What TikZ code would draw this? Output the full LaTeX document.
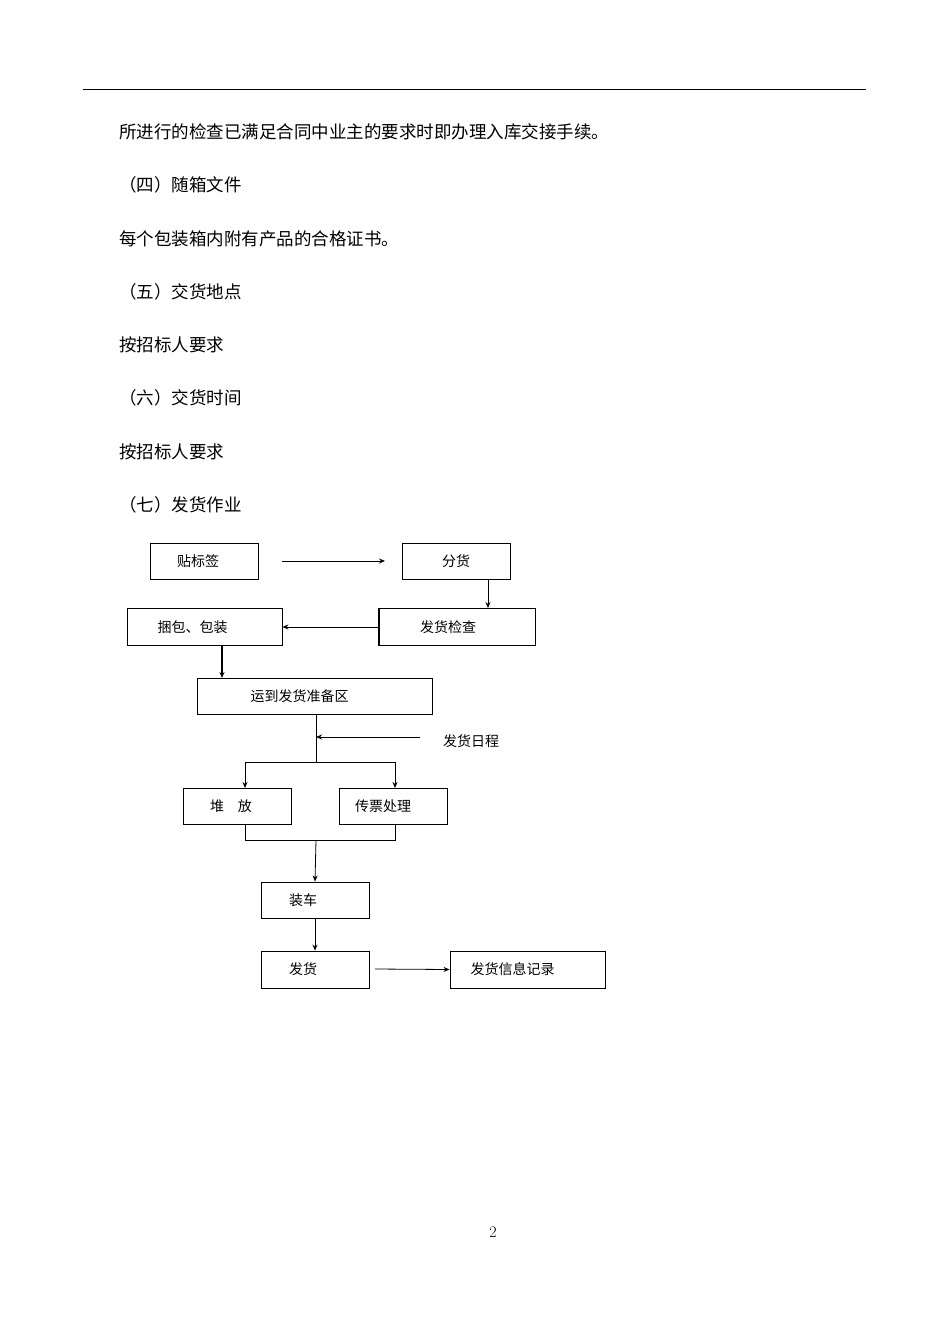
\documentclass[tikz,border=0pt]{standalone}
\usepackage{fontspec}
\usetikzlibrary{arrows.meta}
\newfontfamily\cjk{Noto Sans CJK SC}
\begin{document}
\begin{tikzpicture}[x=1pt,y=-1pt,
  body/.style={anchor=west,inner sep=0,font=\cjk\fontsize{17.5}{20}\selectfont},
  bx/.style={draw,line width=0.9pt,inner sep=0,font=\cjk\fontsize{14}{16}\selectfont},
  lbl/.style={inner sep=0,font=\cjk\fontsize{14}{16}\selectfont},
  arr/.style={-{Stealth[length=6pt,width=5pt]},line width=0.8pt},
  ln/.style={line width=0.9pt}]
\useasboundingbox (0,0) rectangle (950,1344);
\draw[line width=1pt] (83,89) -- (866,89);
\node[body] (t1) at (119,132) {所进行的检查已满足合同中业主的要求时即办理入库交接手续。};
\node[body] (t2) at (119,185) {（四）随箱文件};
\node[body] (t3) at (119,239) {每个包装箱内附有产品的合格证书。};
\node[body] (t4) at (119,292) {（五）交货地点};
\node[body] (t5) at (119,345) {按招标人要求};
\node[body] (t6) at (119,398) {（六）交货时间};
\node[body] (t7) at (119,452) {按招标人要求};
\node[body] (t8) at (119,505) {（七）发货作业};
\node[inner sep=0,font=\fontsize{16}{18}\selectfont] (pg) at (493,1232) {2};

\node[bx,minimum width=108,minimum height=36] (a) at (204,561) {\hspace{-12pt}贴标签};
\node[bx,minimum width=108,minimum height=36] (b) at (456,561) {分货};
\node[bx,minimum width=156,minimum height=37] (c) at (457,627) {\hspace{-18pt}发货检查};
\node[bx,minimum width=155,minimum height=37] (d) at (204.5,627) {\hspace{-24pt}捆包、包装};
\node[bx,minimum width=235,minimum height=36] (e) at (314.5,696) {\hspace{-30pt}运到发货准备区};
\node[lbl] (f) at (471,741) {发货日程};
\node[bx,minimum width=108,minimum height=36] (g) at (237,806) {\hspace{-12pt}堆\hspace{1em}放};
\node[bx,minimum width=108,minimum height=36] (h) at (393,806) {\hspace{-20pt}传票处理};
\node[bx,minimum width=108,minimum height=36] (i) at (315,900) {\hspace{-24pt}装车};
\node[bx,minimum width=108,minimum height=37] (j) at (315,969.5) {\hspace{-24pt}发货};
\node[bx,minimum width=155,minimum height=37] (k) at (527.5,969.5) {\hspace{-30pt}发货信息记录};
\draw[line width=1.6pt] (c.north east) -- (c.south east);
\draw[line width=1.6pt] (c.north west) -- (c.south west);
\draw[line width=1.6pt] (h.north east) -- (h.south east);

\coordinate (p1) at (316,737);
\coordinate (p2) at (316,762);
\coordinate (p3) at (245,762);
\coordinate (p4) at (395,762);
\coordinate (q1) at (245,840);
\coordinate (q2) at (395,840);
\coordinate (q3) at (316,840);

\draw[arr] (282,561) -- (385,561);
\draw[arr] (488,579) -- (488,608);
\draw[arr] (c.west) -- (d.east);
\draw[arr,line width=1.6pt] (222,645) -- (222,678);
\draw[ln] (316,714) -- (p2);
\draw[arr] (420,737) -- (p1);
\draw[ln] (p3) -- (p4);
\draw[arr] (p3) -- (245,788);
\draw[arr] (p4) -- (395,788);
\draw[ln] (245,824) -- (q1) -- (q2) -- (395,824);
\draw[arr] (q3) -- (i.north);
\draw[arr] (i.south) -- (j.north);
\draw[arr] (375,969) -- (k.west);
\end{tikzpicture}
\end{document}
